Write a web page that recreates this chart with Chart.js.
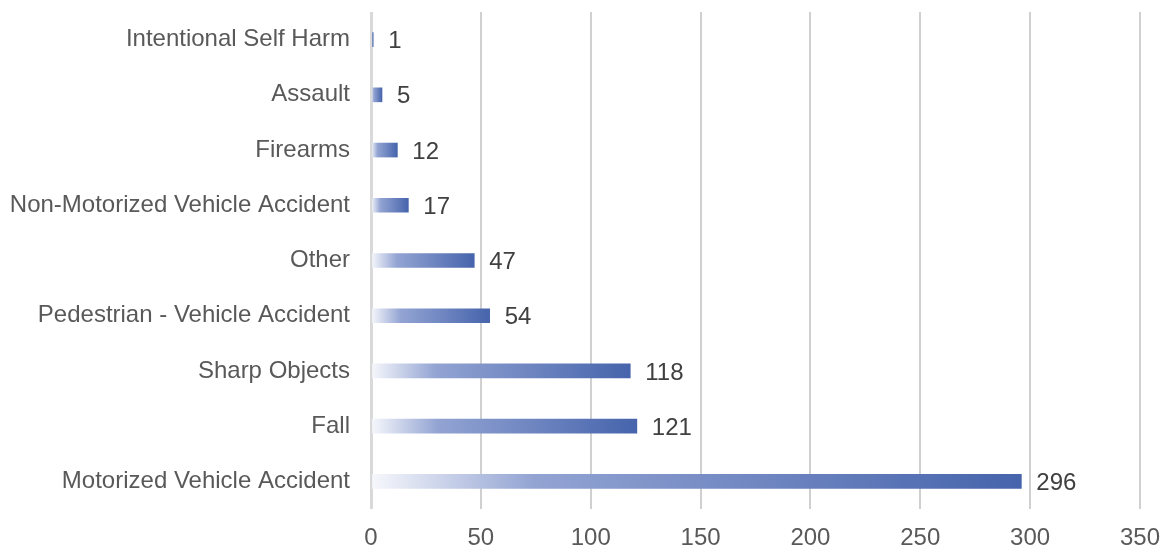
<!DOCTYPE html>
<html>
<head>
<meta charset="utf-8">
<script src="https://cdn.jsdelivr.net/npm/chart.js@4/dist/chart.umd.min.js"></script>
<style>
  html, body { margin: 0; padding: 0; background: #fff; }
  #wrap { width: 1165px; height: 547px; }
</style>
</head>
<body>
<div id="wrap"><canvas id="myChart"></canvas></div>
<script>
// categorias y valores (de arriba hacia abajo)
let categorias = [
  'Intentional Self Harm',
  'Assault',
  'Firearms',
  'Non-Motorized Vehicle Accident',
  'Other',
  'Pedestrian - Vehicle Accident',
  'Sharp Objects',
  'Fall',
  'Motorized Vehicle Accident'
];
let valores = [1, 5, 12, 17, 47, 54, 118, 121, 296];
let ticksX = [0, 50, 100, 150, 200, 250, 300, 350];

const fuente = '"Liberation Sans", Arial, sans-serif';

//Degradado de cada barra: blanco en el cero, azul al final
function degradado(context) {
  let chart = context.chart;
  let area = chart.chartArea;
  if (!area) return '#4a66ad';
  let x = chart.scales.x;
  let x0 = x.getPixelForValue(0);
  let x1 = x.getPixelForValue(context.raw);
  if (x1 - x0 < 1) x1 = x0 + 1;
  let g = chart.ctx.createLinearGradient(x0, 0, x1, 0);
  g.addColorStop(0, '#f7f8fc');
  g.addColorStop(0.25, '#93a4d3');
  g.addColorStop(1, '#4664ac');
  return g;
}

//Etiquetas con el valor a la derecha de la barra
const etiquetas = {
  id: 'etiquetas',
  afterDatasetsDraw(chart) {
    let ctx = chart.ctx;
    let meta = chart.getDatasetMeta(0);
    ctx.save();
    ctx.font = '24px ' + fuente;
    ctx.fillStyle = '#404040';
    ctx.textAlign = 'left';
    ctx.textBaseline = 'middle';
    meta.data.forEach((bar, idx) => {
      ctx.fillText(String(valores[idx]), bar.x + 15, bar.y + 2);
    });
    ctx.restore();
  }
};

let graphTarget = document.getElementById('myChart');
let barGraph = new Chart(graphTarget, {
  type: 'bar',
  data: {
    labels: categorias,
    datasets: [{
      data: valores,
      backgroundColor: degradado,
      borderWidth: 0,
      barThickness: 14
    }]
  },
  plugins: [etiquetas],
  options: {
    indexAxis: 'y',
    responsive: true,
    maintainAspectRatio: false,
    animation: false,
    layout: { padding: { top: 12, right: 25, bottom: 0, left: 0 } },
    scales: {
      x: {
        min: 0,
        max: 350,
        afterBuildTicks: (scale) => { scale.ticks = ticksX.map(v => ({ value: v })); },
        afterFit: (scale) => {
          scale.height = 38;
          scale.paddingLeft = 0;
          scale.paddingRight = 0;
        },
        grid: {
          color: (c) => c.tick && c.tick.value === 0 ? '#d9d9d9' : '#d0d0d0',
          lineWidth: (c) => c.tick && c.tick.value === 0 ? 3 : 2,
          drawTicks: false
        },
        border: { display: false },
        ticks: {
          padding: 15,
          color: '#595959',
          font: { family: fuente, size: 24 }
        }
      },
      y: {
        afterFit: (scale) => {
          scale.width = 371;
          scale.paddingTop = 0;
          scale.paddingBottom = 0;
        },
        grid: { display: false, drawTicks: false },
        border: { display: false },
        ticks: {
          padding: 21,
          color: '#595959',
          font: { family: fuente, size: 24 }
        }
      }
    },
    plugins: {
      legend: { display: false },
      tooltip: { enabled: false }
    }
  }
});
</script>
</body>
</html>
